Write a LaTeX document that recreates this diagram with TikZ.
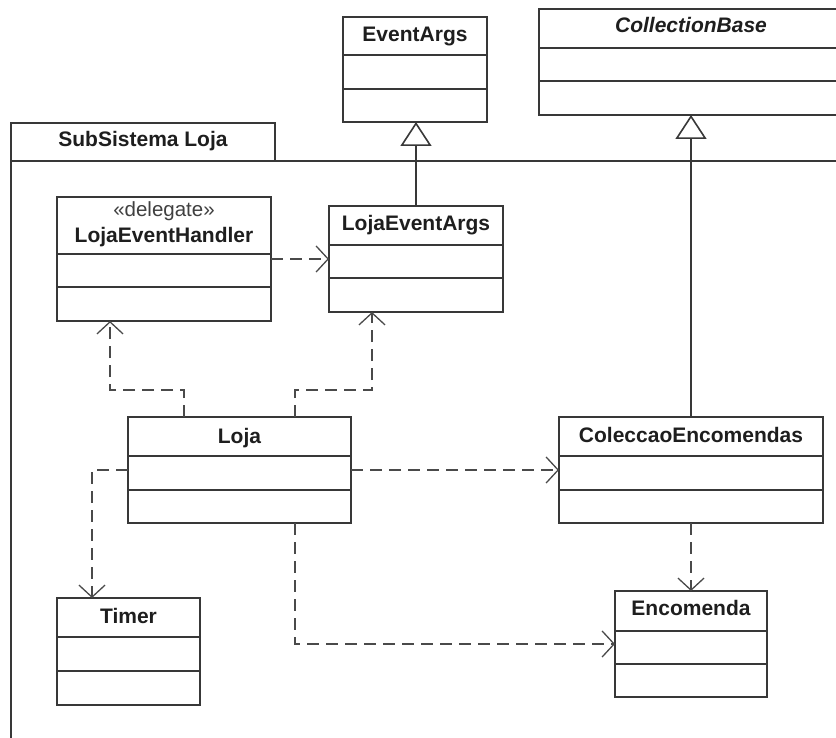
\documentclass[tikz,border=0pt]{standalone}
\usepackage{fontspec}
\setmainfont{Liberation Sans}
\usetikzlibrary{arrows.meta}

\definecolor{inkline}{HTML}{383838}
\definecolor{inkdash}{HTML}{4A4A4A}
\definecolor{inktext}{HTML}{1E1E1E}

\tikzset{
  classframe/.style={draw=inkline, line width=1.7pt, fill=white, inner sep=0pt, outer sep=0pt},
  classline/.style={draw=inkline, line width=1.7pt},
  classname/.style={inner sep=0pt, text=inktext, font=\fontsize{21pt}{24pt}\selectfont\bfseries},
  stereo/.style={inner sep=0pt, text=inktext!85, font=\fontsize{20.5pt}{24pt}\selectfont},
  dep/.style={draw=inkdash, line width=1.7pt, dash pattern=on 12pt off 7pt,
    -{Straight Barb[length=12pt,width=26pt,line width=1.3pt]}},
  gen/.style={draw=inkline, line width=1.7pt,
    -{Triangle[open,length=24pt,width=31pt,line width=1.6pt]}},
}

% class box: name, left, top, width, height, first divider, second divider, title baseline offset
\newcommand\umlclass[8]{%
  \node[classframe, anchor=north west, minimum width=#4pt, minimum height=#5pt] (#1) at (#2,#3) {};
  \draw[classline] ([yshift=-#6pt]#1.north west) -- ([yshift=-#6pt]#1.north east);
  \draw[classline] ([yshift=-#7pt]#1.north west) -- ([yshift=-#7pt]#1.north east);
  \coordinate (#1-base) at ([yshift=-#8pt]#1.north);
}

\begin{document}
\begin{tikzpicture}[x=1pt, y=-1pt]
  \clip (0,0) rectangle (836,738);
  \fill[white] (0,0) rectangle (836,738);

  % package frame
  \node[classframe, anchor=north west, minimum width=264pt, minimum height=38pt] (pkg) at (11,123) {};
  \node[classname, anchor=base] (pkg-name) at ([yshift=-24pt]pkg.north) {SubSistema Loja};
  \draw[classline] (pkg.south west) -- (11,760);
  \draw[classline] (pkg.south west) -- (860,161);

  % classes
  \umlclass{ea}{343}{17}{144}{105}{38}{72}{25}
  \node[classname, anchor=base] (ea-name) at (ea-base) {EventArgs};

  \umlclass{cb}{539}{9}{304}{106}{39}{72}{24}
  \node[classname, anchor=base, font=\fontsize{21pt}{24pt}\selectfont\bfseries\itshape] (cb-name) at (cb-base) {CollectionBase};

  \umlclass{leh}{57}{197}{214}{124}{57}{90}{46}
  \node[stereo, anchor=base] (leh-st) at ([yshift=-20pt]leh.north) {«delegate»};
  \node[classname, anchor=base] (leh-name) at (leh-base) {LojaEventHandler};

  \umlclass{lea}{329}{206}{174}{106}{39}{72}{25}
  \node[classname, anchor=base] (lea-name) at (lea-base) {LojaEventArgs};

  \umlclass{loja}{128}{417}{223}{106}{39}{73}{26}
  \node[classname, anchor=base] (loja-name) at (loja-base) {Loja};

  \umlclass{coll}{559}{417}{264}{106}{39}{73}{25}
  \node[classname, anchor=base] (coll-name) at (coll-base) {ColeccaoEncomendas};

  \umlclass{timer}{57}{598}{143}{107}{39}{73}{25}
  \node[classname, anchor=base] (timer-name) at (timer-base) {Timer};

  \umlclass{enc}{615}{591}{152}{106}{40}{73}{24}
  \node[classname, anchor=base] (enc-name) at (enc-base) {Encomenda};

  % generalisations
  \draw[gen] (lea.north) -- (lea.north |- ea.south);
  \draw[gen] (coll.north) -- (coll.north |- cb.south);

  % dependencies
  \draw[dep] (leh.east) -- (lea.west);
  \draw[dep] ([xshift=56pt]loja.north west) -- ++(0,-27) -| ([xshift=53pt]leh.south west);
  \draw[dep] ([xshift=167pt]loja.north west) -- ++(0,-27) -| ([xshift=43pt]lea.south west);
  \draw[dep] (loja.west) -| ([xshift=35pt]timer.north west);
  \draw[dep] (loja.east) -- (coll.west);
  \draw[dep] ([xshift=167pt]loja.south west) |- (enc.west);
  \draw[dep] (coll.south) -- (enc.north);
\end{tikzpicture}
\end{document}
